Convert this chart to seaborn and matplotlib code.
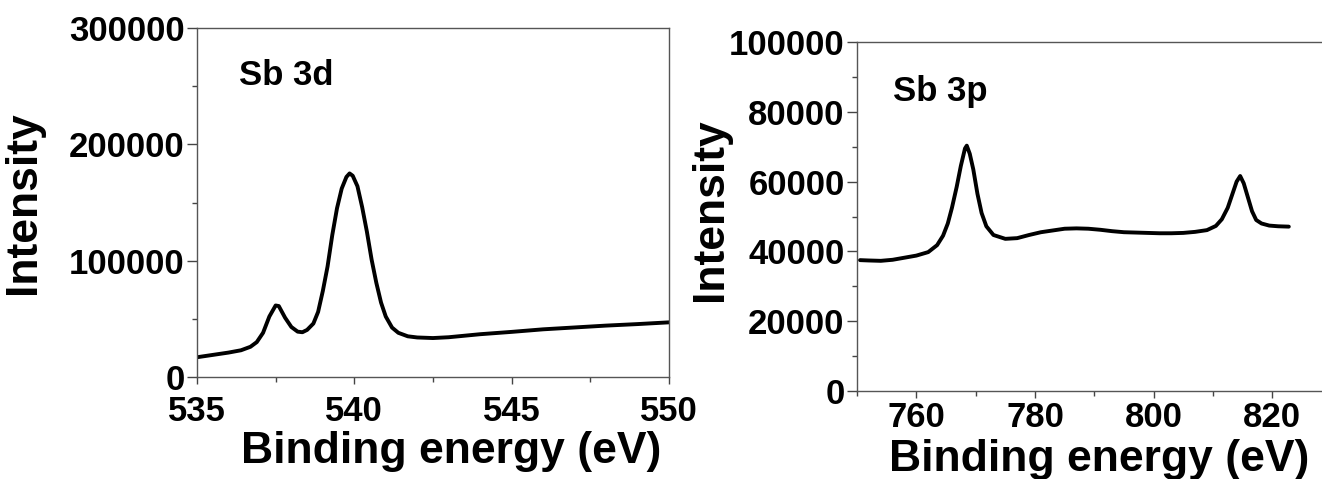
import matplotlib
matplotlib.use("Agg")
import matplotlib.pyplot as plt
import seaborn as sns
import pandas as pd
from matplotlib.ticker import MultipleLocator

# Sb 3d region
x_3d = [535.0, 535.5, 536.0, 536.4, 536.7, 536.9, 537.1, 537.3, 537.5, 537.6,
        537.8, 538.0, 538.2, 538.35, 538.5, 538.7, 538.85, 539.0, 539.15, 539.3,
        539.45, 539.6, 539.75, 539.85, 539.95, 540.1, 540.25, 540.4, 540.55, 540.7,
        540.85, 541.0, 541.2, 541.4, 541.7, 542.0, 542.5, 543.0, 544.0, 545.0,
        546.0, 547.0, 548.0, 549.0, 550.0]
y_3d = [17000, 19000, 21000, 23000, 26000, 30000, 38000, 52000, 61500, 61000,
        51000, 43000, 39000, 38500, 40500, 46000, 56000, 74000, 95000, 122000,
        145000, 162000, 172000, 175000, 173000, 164000, 146000, 125000, 101000, 81000,
        64000, 52000, 42500, 38000, 35000, 34000, 33500, 34200, 36800, 38800,
        41000, 42600, 44200, 45500, 47000]

# Sb 3p region
x_3p = [750.5, 752, 754, 756, 758, 760, 762, 763.5, 764.5, 765.3,
        766, 766.8, 767.5, 768.2, 768.5, 769, 769.6, 770.3, 771, 771.8,
        773, 775, 777, 779, 781, 783, 785, 787, 789, 791,
        793, 795, 797, 799, 801, 803, 805, 807, 809, 810.5,
        811.5, 812.5, 813.3, 814.0, 814.6, 815.2, 815.9, 816.6, 817.3, 818.2,
        819.5, 821, 822.8]
y_3p = [37500, 37400, 37300, 37600, 38200, 38800, 39800, 41800, 44500, 48000,
        52500, 58500, 64500, 69500, 70300, 68000, 63500, 56500, 51000, 47200,
        44700, 43600, 43800, 44700, 45500, 46000, 46500, 46600, 46500, 46200,
        45800, 45500, 45400, 45300, 45200, 45200, 45300, 45600, 46100, 47300,
        49200, 52500, 56500, 60000, 61600, 59500, 55500, 51500, 49000, 48000,
        47400, 47200, 47100]

panel_labels = ["Sb 3d", "Sb 3p"]

sns.set_theme(style="ticks")
plt.rcParams.update({
    'font.family': ['Liberation Sans', 'DejaVu Sans'],
    'font.weight': 'bold',
    'text.color': 'black',
    'axes.labelcolor': 'black',
    'axes.edgecolor': '#555555',
    'axes.linewidth': 1.0,
    'xtick.color': '#444444',
    'ytick.color': '#444444',
    'xtick.labelcolor': 'black',
    'ytick.labelcolor': 'black',
})

fig = plt.figure(figsize=(13.22, 4.79), dpi=100)
ax1 = fig.add_axes([0.149, 0.2129, 0.357, 0.7286])
ax2 = fig.add_axes([0.6483, 0.1837, 0.3589, 0.7286])

df_3d = pd.DataFrame({'energy': x_3d, 'intensity': y_3d})
df_3p = pd.DataFrame({'energy': x_3p, 'intensity': y_3p})

sns.lineplot(data=df_3d, x='energy', y='intensity', ax=ax1, color='black',
             linewidth=2.8, sort=False, estimator=None)
sns.lineplot(data=df_3p, x='energy', y='intensity', ax=ax2, color='black',
             linewidth=2.8, sort=False, estimator=None)

ax1.set_xlim(535, 550)
ax1.set_ylim(0, 300000)
ax1.xaxis.set_major_locator(MultipleLocator(5))
ax1.xaxis.set_minor_locator(MultipleLocator(2.5))
ax1.yaxis.set_major_locator(MultipleLocator(100000))
ax1.yaxis.set_minor_locator(MultipleLocator(50000))

ax2.set_xlim(750, 830)
ax2.set_ylim(0, 100000)
ax2.xaxis.set_major_locator(MultipleLocator(20))
ax2.xaxis.set_minor_locator(MultipleLocator(10))
ax2.yaxis.set_major_locator(MultipleLocator(20000))
ax2.yaxis.set_minor_locator(MultipleLocator(10000))

for ax, lab, lx, ly, xpad in zip([ax1, ax2], panel_labels, [0.09, 0.076],
                                 [0.865, 0.857], [8, 2]):
    for s in ax.spines.values():
        s.set_visible(True)
    ax.tick_params(which='major', direction='out', length=7, width=1, labelsize=25, pad=2)
    ax.tick_params(which='minor', direction='out', length=3.5, width=1)
    ax.tick_params(axis='x', which='major', length=5, pad=xpad)
    for t in ax.get_xticklabels() + ax.get_yticklabels():
        t.set_fontweight('bold')
    ax.text(lx, ly, lab, transform=ax.transAxes,
            fontsize=25, fontweight='bold', va='center', ha='left')
    ax.set_xlabel('Binding energy (eV)', fontsize=32, fontweight='bold')
    ax.set_ylabel('Intensity', fontsize=32, fontweight='bold')
    ax.grid(False)

ax1.xaxis.set_label_coords(0.539, -0.155)
ax1.yaxis.set_label_coords(-0.325, 0.5)
ax2.xaxis.set_label_coords(0.511, -0.138)
ax2.yaxis.set_label_coords(-0.265, 0.52)

fig.savefig('out.png', dpi=100, facecolor='white')
